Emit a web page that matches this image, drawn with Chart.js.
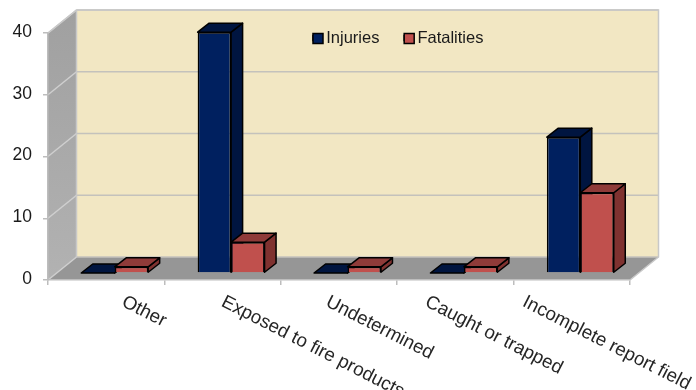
<!DOCTYPE html>
<html>
<head>
<meta charset="utf-8">
<style>
  html, body { margin: 0; padding: 0; background: #fff; }
</style>
<script src="https://cdn.jsdelivr.net/npm/chart.js@4/dist/chart.umd.js"></script>
</head>
<body>
<canvas id="chart" width="696" height="390" style="display:block"></canvas>
<script>
const categories = ["Other", "Exposed to fire products", "Undetermined", "Caught or trapped", "Incomplete report field"];
const injuries = [0, 39, 0, 0, 22];
const fatalities = [1, 5, 1, 1, 13];
const yTicks = [0, 10, 20, 30, 40];

// depth of the fake 3d box and of the bars inside it
const wallDx = 28.5, wallDy = 23;
const barShiftX = 8.5, barShiftY = 7;
const barDx = 11.5, barDy = 9;

// where each rotated label starts, relative to the centre of its category
const labelShift = [17, 0, -12, -29, -48];
const labelAngle = 27 * Math.PI / 180;
const fontName = '"Liberation Sans", Arial, sans-serif';
const legendPadding = 24.75, legendBox = 5, legendFont = 16.5;

const poly = (ctx, pts, fill, stroke) => {
    ctx.beginPath();
    pts.forEach((p, i) => i ? ctx.lineTo(p[0], p[1]) : ctx.moveTo(p[0], p[1]));
    ctx.closePath();
    ctx.fillStyle = fill;
    ctx.fill();
    if (stroke) {
        ctx.strokeStyle = stroke;
        ctx.stroke();
    }
};

const boxPlugin = {
    id: "box3d",
    afterLayout(chart) {
        // legend sits inside the back wall, in one row
        let legend = chart.legend;
        legend.isHorizontal = () => true;
        legend.lineWidths = [0];
        legend.left = 313 - legendPadding;
        legend.right = 696;
        legend.top = 5;
        legend.bottom = 70;
    },
    beforeDraw(chart) {
        let ctx = chart.ctx, area = chart.chartArea, y = chart.scales.y;
        let l = area.left, r = area.right, b = y.getPixelForValue(0), t = y.getPixelForValue(40);
        ctx.save();

        // side wall
        let grad = ctx.createLinearGradient(0, t - wallDy, 0, b);
        grad.addColorStop(0, "#a0a0a0");
        grad.addColorStop(1, "#b2b2b2");
        poly(ctx, [[l, t], [l + wallDx, t - wallDy], [l + wallDx, b - wallDy], [l, b]], grad);
        // floor
        poly(ctx, [[l, b], [l + wallDx, b - wallDy], [r + wallDx, b - wallDy], [r, b]], "#969696");
        // back wall
        ctx.fillStyle = "#f2e7c3";
        ctx.fillRect(l + wallDx, t - wallDy, r - l, b - t);

        ctx.lineWidth = 1.5;
        yTicks.forEach(v => {
            let py = y.getPixelForValue(v);
            ctx.strokeStyle = "#c4c2bc";
            ctx.beginPath();
            ctx.moveTo(l + wallDx, py - wallDy);
            ctx.lineTo(r + wallDx, py - wallDy);
            ctx.stroke();
            ctx.strokeStyle = "#cfcfcf";
            ctx.beginPath();
            ctx.moveTo(l, py);
            ctx.lineTo(l + wallDx, py - wallDy);
            ctx.stroke();
        });
        // outline of the walls
        ctx.strokeStyle = "#c8c8c8";
        ctx.beginPath();
        ctx.moveTo(l, t);
        ctx.lineTo(l + wallDx, t - wallDy);
        ctx.lineTo(r + wallDx, t - wallDy);
        ctx.lineTo(r + wallDx, b - wallDy);
        ctx.lineTo(r, b);
        ctx.moveTo(l + wallDx, t - wallDy);
        ctx.lineTo(l + wallDx, b - wallDy);
        ctx.stroke();
        ctx.restore();
    },
    beforeDatasetsDraw(chart) {
        // side and top faces of every bar go first, blue then red, fronts come after
        let ctx = chart.ctx;
        ctx.save();
        ctx.translate(barShiftX, -barShiftY);
        ctx.lineWidth = 1.5;
        ctx.lineJoin = "round";
        chart.data.datasets.forEach((ds, index) => {
            chart.getDatasetMeta(index).data.forEach(bar => {
                let p = bar.getProps(["x", "y", "base", "width"], true);
                let x0 = p.x - p.width / 2, x1 = p.x + p.width / 2;
                poly(ctx, [[x1, p.y], [x1 + barDx, p.y - barDy], [x1 + barDx, p.base - barDy], [x1, p.base]], ds.sideColor, "#000");
                poly(ctx, [[x0, p.y], [x0 + barDx, p.y - barDy], [x1 + barDx, p.y - barDy], [x1, p.y]], ds.topColor, "#000");
            });
        });
        ctx.restore();
    },
    beforeDatasetDraw(chart) {
        chart.ctx.save();
        chart.ctx.translate(barShiftX, -barShiftY);
    },
    afterDatasetDraw(chart) {
        chart.ctx.restore();
    },
    afterDraw(chart) {
        let ctx = chart.ctx, x = chart.scales.x;
        // legend markers are wider than the box the legend leaves for them
        let markerX = chart.legend.left + legendPadding;
        ctx.font = legendFont + "px " + fontName;
        chart.legend.legendItems.forEach((item, i) => {
            ctx.fillStyle = chart.data.datasets[i].backgroundColor;
            ctx.strokeStyle = "#000";
            ctx.lineWidth = 1.5;
            ctx.fillRect(markerX, 33.5, 10, 10);
            ctx.strokeRect(markerX, 33.5, 10, 10);
            markerX += legendBox + legendFont / 2 + ctx.measureText(item.text).width + legendPadding;
        });
        // rotated category labels, running down to the right
        categories.forEach((name, i) => {
            ctx.save();
            ctx.translate(x.getPixelForValue(i) + labelShift[i], 301);
            ctx.rotate(labelAngle);
            ctx.font = "18.8px " + fontName;
            ctx.fillStyle = "#262626";
            ctx.textBaseline = "middle";
            ctx.fillText(name, 0, 0);
            ctx.restore();
        });
    }
};

new Chart(document.getElementById("chart"), {
    type: "bar",
    data: {
        labels: categories,
        datasets: [
            { label: "Injuries", data: injuries, backgroundColor: "#00205f", sideColor: "#001540", topColor: "#001540", borderColor: "#000", borderWidth: 1.5, clip: false },
            { label: "Fatalities", data: fatalities, backgroundColor: "#c0504d", sideColor: "#7f3230", topColor: "#8f3b39", borderColor: "#000", borderWidth: 1.5, clip: false }
        ]
    },
    options: {
        responsive: false,
        animation: false,
        layout: { padding: { top: 33, right: 66, left: 0, bottom: 0 } },
        datasets: { bar: { categoryPercentage: 0.575, barPercentage: 1 } },
        plugins: {
            tooltip: { enabled: false },
            legend: {
                position: "chartArea",
                align: "start",
                labels: {
                    boxWidth: legendBox, boxHeight: 5, padding: legendPadding, color: "#1a1a1a",
                    font: { family: fontName, size: legendFont }
                }
            }
        },
        scales: {
            x: {
                afterFit: s => { s.height = 110; },
                ticks: { display: false },
                border: { color: "#bdbdbd", width: 1.5 },
                grid: { drawOnChartArea: false, tickLength: 5, color: "#bdbdbd", lineWidth: 1.5 }
            },
            y: {
                min: 0,
                max: 40,
                afterFit: s => { s.width = 48; },
                afterBuildTicks: s => { s.ticks = yTicks.map(v => ({ value: v })); },
                ticks: { padding: 11, labelOffset: -1, color: "#1a1a1a", font: { family: fontName, size: 17.5 } },
                border: { color: "#bdbdbd", width: 1.5 },
                grid: { drawOnChartArea: false, tickLength: 5, color: "#bdbdbd", lineWidth: 1.5 }
            }
        }
    },
    plugins: [boxPlugin]
});
</script>
</body>
</html>
